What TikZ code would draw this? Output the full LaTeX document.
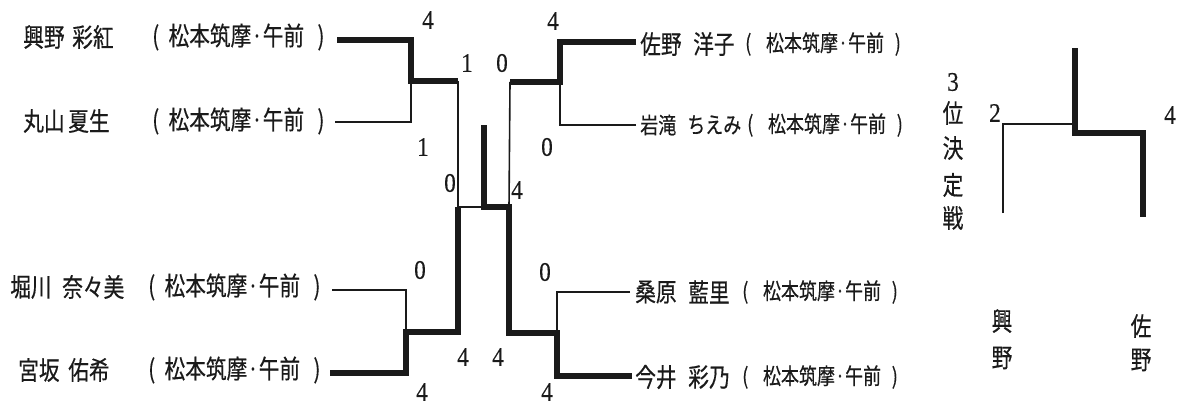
\documentclass[tikz,border=0pt]{standalone}
\usepackage{graphicx}
\usepackage{fontspec}
\newfontfamily\jpfam[FakeBold=0.5]{Noto Sans CJK JP}
\newfontfamily\dgfam[FakeBold=0.4]{Liberation Serif}
\newcommand\jpA{\jpfam\fontsize{15.5pt}{16pt}\selectfont}
\newcommand\jpB{\jpfam\fontsize{15.5pt}{16pt}\selectfont}
\newcommand\jpC{\jpfam\fontsize{13.5pt}{14pt}\selectfont}
\newcommand\jpD{\jpfam\fontsize{13.5pt}{14pt}\selectfont}
\newcommand\dgf{\dgfam\fontsize{17.5pt}{18pt}\selectfont}
\newcommand\tallc[1]{\scalebox{1}[1.25]{#1}}
\newcommand\talld[1]{\scalebox{1}[1.15]{#1}}
\newcommand\affL{\tallc{(\hspace{7pt}松本筑摩·午前\hspace{10pt})}}
\newcommand\affR{\tallc{(\hspace{11pt}松本筑摩·午前\hspace{8pt})}}
\definecolor{ink}{HTML}{1A1A1A}
\begin{document}
\begin{tikzpicture}[x=0.75pt,y=-0.75pt,
  ln/.style={draw=ink,line width=1.2pt,line join=miter},
  wl/.style={draw=ink,line width=4.5pt,line join=miter},
  nmA/.style={inner sep=0pt,anchor=west,font=\jpA,text=ink},
  nmB/.style={inner sep=0pt,anchor=west,font=\jpB,text=ink},
  nmC/.style={inner sep=0pt,anchor=west,font=\jpC,text=ink},
  afR/.style={inner sep=0pt,anchor=west,font=\jpD,text=ink},
  sc/.style={inner sep=0pt,font=\dgf,text=ink},
  vt/.style={inner sep=0pt,font=\jpA,text=ink}]
\useasboundingbox (0,0) rectangle (1180,407);
% left names
\node[nmA] (s1) at (23,37) {\tallc{興野}};
\node[nmA] (g1) at (72,37) {\tallc{彩紅}};
\node[nmA] (a1) at (152,37) {\affL};
\node[nmA] (s2) at (23,121) {\tallc{丸山}};
\node[nmA] (g2) at (68,121) {\tallc{夏生}};
\node[nmA] (a2) at (152,121) {\affL};
\node[nmA] (s3) at (10,287) {\tallc{堀川}};
\node[nmA] (g3) at (62,287) {\tallc{奈々美}};
\node[nmA] (a3) at (148,287) {\affL};
\node[nmA] (s4) at (18,370) {\tallc{宮坂}};
\node[nmA] (g4) at (68,370) {\tallc{佑希}};
\node[nmA] (a4) at (148,370) {\affL};
% right names
\node[nmB] (s5) at (640,44) {\tallc{佐野}};
\node[nmB] (g5) at (693,44) {\tallc{洋子}};
\node[afR] (a5) at (745,44) {\affR};
\node[nmC] (s6) at (640,125) {\tallc{岩滝}};
\node[nmC] (g6) at (687,125) {\tallc{ちえみ}};
\node[afR] (a6) at (747,125) {\affR};
\node[nmB] (s7) at (635,292) {\tallc{桑原}};
\node[nmB] (g7) at (688,292) {\tallc{藍里}};
\node[afR] (a7) at (742,292) {\affR};
\node[nmB] (s8) at (635,377) {\tallc{今井}};
\node[nmB] (g8) at (688,377) {\tallc{彩乃}};
\node[afR] (a8) at (742,377) {\affR};
% bracket coordinates
\coordinate (L1) at (337,40);
\coordinate (L2) at (335,122);
\coordinate (L3) at (332,290);
\coordinate (L4) at (330,373);
\coordinate (R1) at (636,42);
\coordinate (R2) at (636,125);
\coordinate (R3) at (630,292);
\coordinate (R4) at (632,376);
\coordinate (jL1) at (411,81);
\coordinate (jL2) at (406,332);
\coordinate (jR1) at (560,82);
\coordinate (jR2) at (557,333);
\coordinate (sL1) at (458,81);
\coordinate (sL2) at (458,332);
\coordinate (sR1) at (510,82);
\coordinate (sR2) at (509,333);
\coordinate (mL) at (458,207);
\coordinate (mR) at (509,207);
\coordinate (c0) at (484,207);
\coordinate (c1) at (484,125);
% left side
\draw[ln] (L2) -| (jL1);
\draw[wl] (L1) -| (jL1) -- (sL1);
\draw[ln] (sL1) -- (mL) -- (c0);
\draw[ln] (L3) -| (jL2);
\draw[wl] (L4) -| (jL2) -- (sL2) -- (mL);
% right side
\draw[ln] (R2) -| (jR1);
\draw[wl] (R1) -| (jR1) -- (sR1);
\draw[ln] (sR1) -- (mR);
\draw[ln] (R3) -| (jR2);
\draw[wl] (R4) -| (jR2) -- (sR2) -- (mR) -- (c0) -- (c1);
% scores
\node[sc] (n1) at (428,20) {\talld{4}};
\node[sc] (n2) at (467,63) {\talld{1}};
\node[sc] (n3) at (502,63) {\talld{0}};
\node[sc] (n4) at (553,21) {\talld{4}};
\node[sc] (n5) at (423,147) {\talld{1}};
\node[sc] (n6) at (547,147) {\talld{0}};
\node[sc] (n7) at (450,183) {\talld{0}};
\node[sc] (n8) at (517,190) {\talld{4}};
\node[sc] (n9) at (420,270) {\talld{0}};
\node[sc] (n10) at (545,272) {\talld{0}};
\node[sc] (n11) at (463,357) {\talld{4}};
\node[sc] (n12) at (498,357) {\talld{4}};
\node[sc] (n13) at (422,392) {\talld{4}};
\node[sc] (n14) at (547,392) {\talld{4}};
% third place
\node[sc] (t0) at (953,82) {\talld{3}};
\node[vt] (t1) at (953,113) {\tallc{位}};
\node[vt] (t2) at (953,148) {\tallc{決}};
\node[vt] (t3) at (953,185) {\tallc{定}};
\node[vt] (t4) at (953,218) {\tallc{戦}};
\node[sc] (t5) at (995,113) {\talld{2}};
\node[sc] (t6) at (1170,115) {\talld{4}};
\coordinate (q1) at (1003,213);
\coordinate (q2) at (1003,124);
\coordinate (q3) at (1075,124);
\coordinate (q4) at (1075,48);
\coordinate (q5) at (1075,133);
\coordinate (q6) at (1143,133);
\coordinate (q7) at (1143,217);
\draw[ln] (q1) -- (q2) -- (q3);
\draw[wl] (q4) -- (q5) -- (q6) -- (q7);
\node[vt] (b1) at (1002,321) {\tallc{興}};
\node[vt] (b2) at (1002,358) {\tallc{野}};
\node[vt] (b3) at (1141,326) {\tallc{佐}};
\node[vt] (b4) at (1141,360) {\tallc{野}};
\end{tikzpicture}
\end{document}
